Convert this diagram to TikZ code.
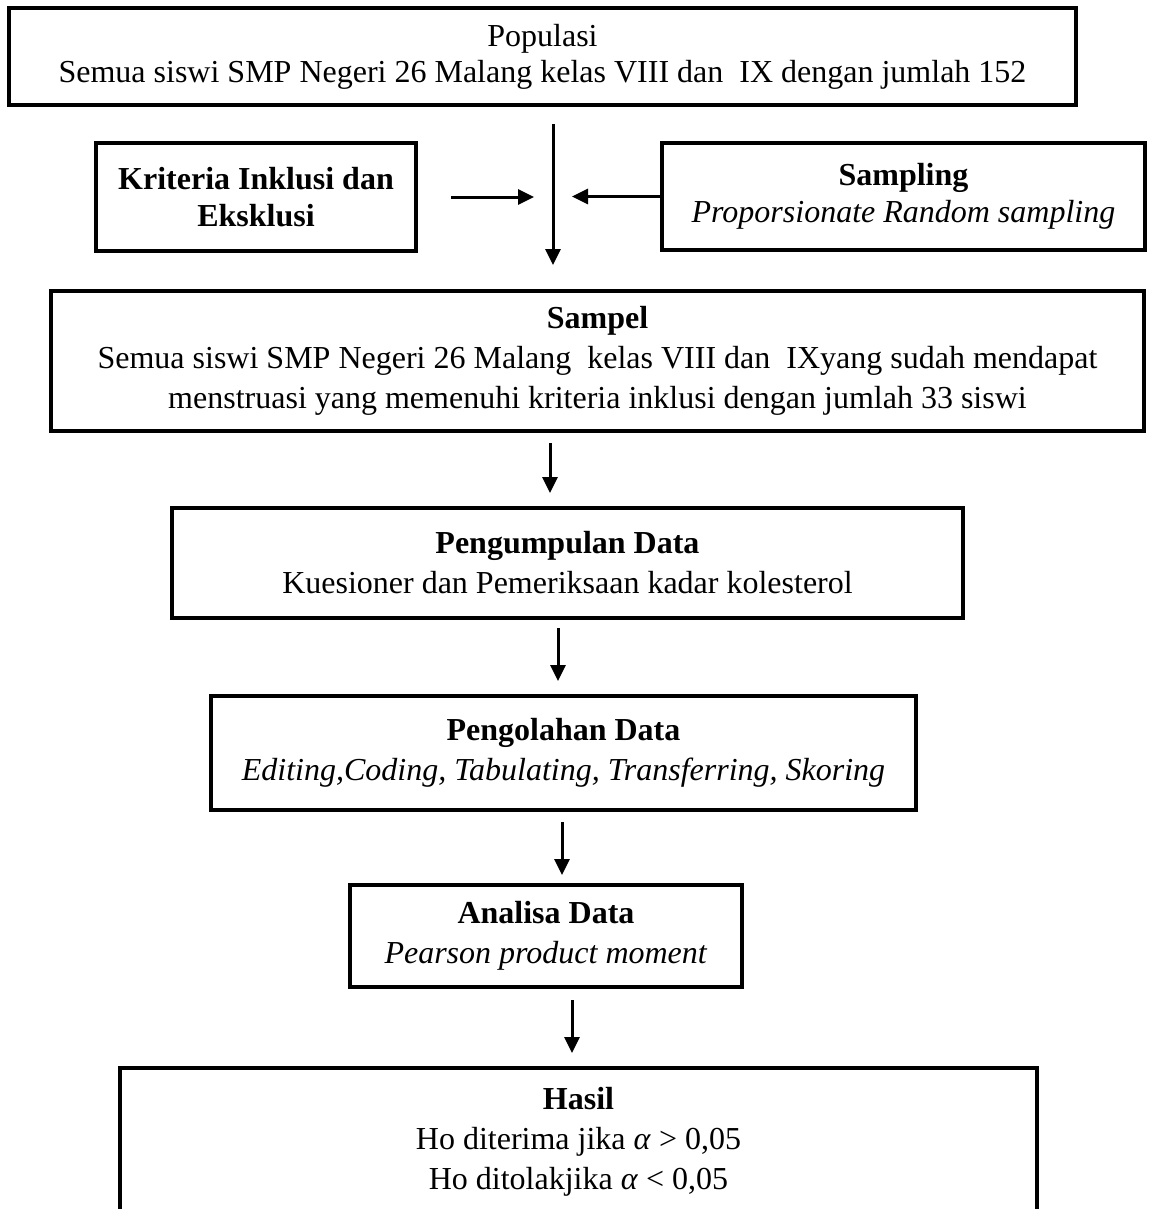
\documentclass[tikz,border=0pt]{standalone}
\usepackage{fontspec}
\setmainfont{Liberation Serif}
\usetikzlibrary{arrows.meta}
\begin{document}
\begin{tikzpicture}[x=1pt,y=-1pt,
  box/.style={draw, line width=3.5pt, rectangle, inner sep=2pt, outer sep=0pt, align=center, font=\fontsize{32}{40}\selectfont},
  tight/.style={font=\fontsize{32}{37}\selectfont},
  tighter/.style={font=\fontsize{32}{36}\selectfont},
  arr/.style={line width=3pt, -{Triangle[width=15pt,length=16pt]}},
  sides/.style={line width=3.5pt}
]
\useasboundingbox (0,0) rectangle (1151,1209);

\node[box, tighter, minimum width=1067pt, minimum height=97pt] (pop) at (542.5,56.5)
  {Populasi\\Semua siswi SMP Negeri 26 Malang kelas VIII dan~ IX dengan jumlah 152};

\node[box, tight, minimum width=320pt, minimum height=108pt] (krit) at (256,197)
  {\textbf{Kriteria Inklusi dan}\\\textbf{Eksklusi}};

\node[box, tight, minimum width=483pt, minimum height=107pt] (samp) at (903.5,196.5)
  {\textbf{Sampling}\\\textit{Proporsionate Random sampling}};

\node[box, minimum width=1093pt, minimum height=140pt] (sam) at (597.5,361)
  {\textbf{Sampel}\\Semua siswi SMP Negeri 26 Malang~ kelas VIII dan~ IXyang sudah mendapat\\menstruasi yang memenuhi kriteria inklusi dengan jumlah 33 siswi};

\node[box, minimum width=791pt, minimum height=110pt] (kum) at (567.5,563)
  {\textbf{Pengumpulan Data}\\Kuesioner dan Pemeriksaan kadar kolesterol};

\node[box, minimum width=705pt, minimum height=114pt] (olah) at (563.5,753)
  {\textbf{Pengolahan Data}\\\textit{Editing,Coding, Tabulating, Transferring, Skoring}};

\node[box, minimum width=392pt, minimum height=102pt] (anal) at (546,936)
  {\textbf{Analisa Data}\\\textit{Pearson product moment}};

\node[box, draw=none, minimum width=917pt, minimum height=148pt] (has) at (578.5,1142)
  {\textbf{Hasil}\\Ho diterima jika \textit{α} > 0,05\\Ho ditolakjika \textit{α} < 0,05};
\draw[sides] (has.south west) -- (has.north west) -- (has.north east) -- (has.south east);

\coordinate (a1) at (553,0);
\coordinate (a2) at (550,0);
\coordinate (a3) at (558,0);
\coordinate (a4) at (562,0);
\coordinate (a5) at (572,0);

\draw[arr, shorten <=19pt, shorten >=26pt] (a1 |- pop.south) -- (a1 |- sam.north);
\draw[arr, shorten <=35pt, shorten >=19pt] (krit.east) -- (a1 |- krit.east);
\draw[arr, shorten >=19pt] (samp.west) -- (a1 |- samp.west);
\draw[arr, shorten <=12pt, shorten >=15pt] (a2 |- sam.south) -- (a2 |- kum.north);
\draw[arr, shorten <=10pt, shorten >=15pt] (a3 |- kum.south) -- (a3 |- olah.north);
\draw[arr, shorten <=12pt, shorten >=10pt] (a4 |- olah.south) -- (a4 |- anal.north);
\draw[arr, shorten <=13pt, shorten >=15pt] (a5 |- anal.south) -- (a5 |- has.north);
\end{tikzpicture}
\end{document}
